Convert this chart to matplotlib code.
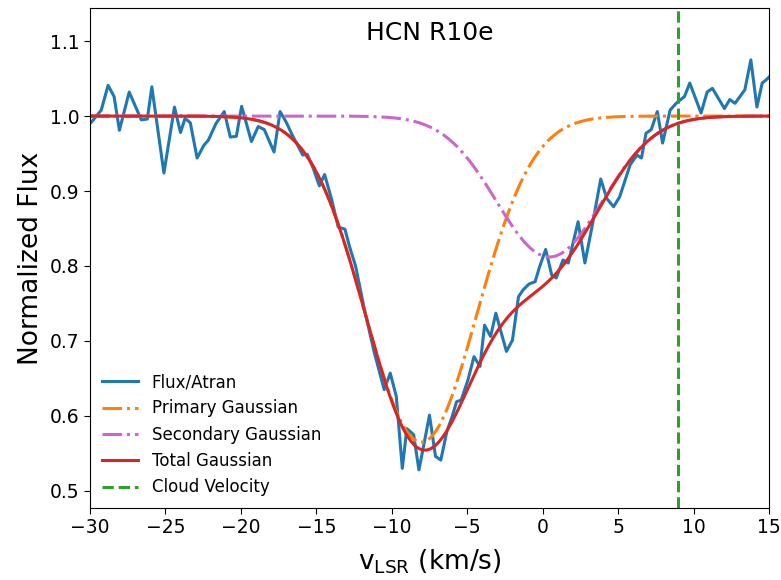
import numpy as np
import matplotlib.pyplot as plt

# Flux/Atran spectrum
velocity = [-30.0, -29.9, -29.25, -28.8, -28.4, -28.05, -27.4, -26.6, -26.2, -25.9, -25.1,
            -24.4, -24.0, -23.7, -23.35, -22.9, -22.45, -22.15, -21.65, -21.1, -20.7,
            -20.3, -19.95, -19.3, -18.85, -18.45, -17.8, -17.4, -17.0, -16.6, -15.9,
            -15.6, -15.2, -14.8, -14.45, -14.0, -13.55, -13.1, -12.8, -12.4, -11.8,
            -11.15, -10.5, -10.1, -9.7, -9.3, -9.0, -8.55, -8.2, -7.85, -7.5, -7.1,
            -6.75, -6.35, -6.0, -5.7, -5.4, -4.95, -4.55, -4.15, -3.85, -3.45, -3.1,
            -2.4, -2.0, -1.6, -1.3, -0.9, -0.5, -0.2, 0.2, 0.6, 0.9, 1.35, 1.7, 2.35,
            2.8, 3.25, 3.85, 4.25, 4.7, 5.1, 5.8, 6.25, 6.55, 6.85, 7.2, 7.6, 7.95,
            8.45, 8.85, 9.15, 9.4, 9.75, 10.5, 10.9, 11.25, 12.05, 12.4, 12.75, 13.4,
            13.8, 14.2, 14.55, 14.85, 15.0]
flux = [0.990, 0.992, 1.008, 1.041, 1.026, 0.981, 1.032, 0.995, 0.996, 1.039, 0.924,
        1.012, 0.978, 0.997, 0.991, 0.944, 0.961, 0.968, 0.990, 1.006, 0.972,
        0.973, 1.013, 0.966, 0.986, 0.982, 0.952, 1.006, 0.992, 0.975, 0.948,
        0.949, 0.930, 0.907, 0.922, 0.890, 0.852, 0.849, 0.826, 0.800, 0.741,
        0.684, 0.635, 0.657, 0.626, 0.530, 0.583, 0.575, 0.528, 0.564, 0.601, 0.546,
        0.541, 0.579, 0.599, 0.619, 0.621, 0.648, 0.679, 0.666, 0.721, 0.706, 0.737,
        0.686, 0.701, 0.759, 0.768, 0.776, 0.779, 0.799, 0.822, 0.788, 0.784, 0.808, 0.804, 0.859,
        0.804, 0.850, 0.916, 0.890, 0.879, 0.892, 0.935, 0.948, 0.944, 0.977, 0.982, 1.006, 0.964,
        1.008, 1.017, 1.022, 1.026, 1.044, 1.004, 1.032, 1.037, 1.010, 1.022, 1.017, 1.035,
        1.075, 1.012, 1.044, 1.049, 1.052]

# Gaussian fit parameters (depth, centre, sigma)
primary_depth, primary_center, primary_sigma = 0.435, -8.05, 3.7
secondary_depth, secondary_center, secondary_sigma = 0.188, 0.45, 3.5
cloud_velocity = 9.0

v_model = np.linspace(-30, 15, 600)
primary = 1 - primary_depth * np.exp(-(v_model - primary_center) ** 2 / (2 * primary_sigma ** 2))
secondary = 1 - secondary_depth * np.exp(-(v_model - secondary_center) ** 2 / (2 * secondary_sigma ** 2))
total = primary + secondary - 1

fig = plt.figure(figsize=(7.81, 5.8), dpi=100)
ax = fig.add_axes([0.1152, 0.124, 0.8694, 0.862])

ax.plot(velocity, flux, color='#1f77b4', lw=2.2, label='Flux/Atran')
ax.plot(v_model, primary, color='#ff7f0e', lw=2.2, ls='-.', label='Primary Gaussian')
ax.plot(v_model, secondary, color='#cc66cc', lw=2.2, ls='-.', label='Secondary Gaussian')
ax.plot(v_model, total, color='#d62728', lw=2.2, label='Total Gaussian')
ax.axvline(cloud_velocity, color='#2ca02c', lw=2.2, ls='--', label='Cloud Velocity')

ax.set_xlim(-30, 15)
ax.set_ylim(0.477, 1.144)
ax.set_xticks(np.arange(-30, 16, 5))
ax.set_yticks([0.5, 0.6, 0.7, 0.8, 0.9, 1.0, 1.1])
ax.tick_params(labelsize=13.5, length=4)
ax.set_xlabel(r'v$_{\rm LSR}$ (km/s)', fontsize=19, labelpad=7)
ax.set_ylabel('Normalized Flux', fontsize=19)
ax.text(0.5, 0.975, 'HCN R10e', transform=ax.transAxes, ha='center', va='top', fontsize=18)
ax.legend(loc='lower left', frameon=False, fontsize=12, borderaxespad=0.3, handlelength=2.2)

fig.savefig('out.png', dpi=100)
